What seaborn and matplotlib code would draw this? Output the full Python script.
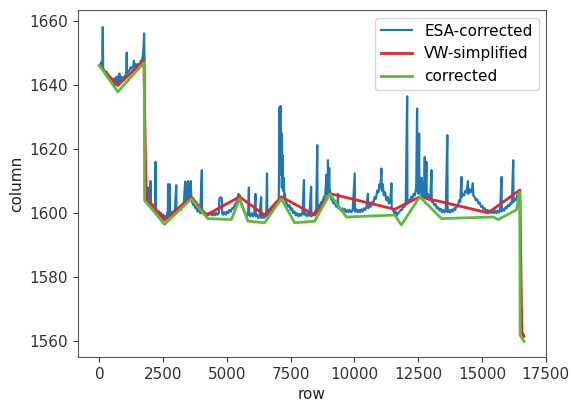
import matplotlib
matplotlib.use("Agg")
import matplotlib.pyplot as plt
import seaborn as sns
import pandas as pd

# ESA-corrected trace, (row, column) pairs, one list per stretch of rows
esa_head = [
    (0, 1646), (30, 1645.5), (60, 1647), (90, 1645), (110, 1646), (130, 1658), (145, 1645),
    (190, 1644.5), (240, 1643.5), (290, 1644), (340, 1642.5), (390, 1642), (440, 1641.5),
    (490, 1641), (540, 1640.5), (590, 1642), (630, 1640), (670, 1642.5), (710, 1640.5),
    (750, 1642.5), (785, 1643.5), (810, 1641), (860, 1642.5), (910, 1641.5), (960, 1642.5),
    (1010, 1642.5), (1050, 1644), (1070, 1650), (1085, 1643.5), (1130, 1644), (1180, 1644.5),
    (1230, 1645.5), (1280, 1645), (1330, 1646), (1350, 1647.5), (1370, 1645.5), (1420, 1646.5),
    (1470, 1645.5), (1520, 1646.5), (1570, 1646), (1620, 1647.5), (1660, 1647), (1700, 1649),
    (1730, 1652), (1750, 1656), (1765, 1648),
]
esa_a = [
    (1780, 1606), (1800, 1603.5), (1830, 1605), (1850, 1608), (1870, 1603), (1900, 1608),
    (1915, 1602.5), (1950, 1604), (1980, 1603), (2000, 1610), (2015, 1602.5), (2060, 1601.5),
    (2100, 1602.5), (2150, 1600.5), (2190, 1602), (2200, 1616), (2210, 1601), (2260, 1600.5),
    (2300, 1599.5), (2340, 1600.5), (2380, 1599), (2420, 1600), (2460, 1598.5), (2500, 1599.5),
    (2540, 1598), (2580, 1599), (2620, 1598.5), (2660, 1600), (2680, 1599.5), (2690, 1609),
    (2700, 1599.5), (2740, 1600), (2750, 1609), (2760, 1599.5), (2800, 1600.5), (2850, 1599.5),
    (2900, 1600.5), (2950, 1600), (3010, 1608.7), (3020, 1600.5), (3060, 1601), (3100, 1600.5),
    (3150, 1601.5), (3200, 1601), (3250, 1602.5), (3300, 1602), (3360, 1609.8), (3370, 1603),
    (3420, 1603.5), (3470, 1610), (3480, 1603.5), (3530, 1604.5), (3580, 1610), (3600, 1605),
    (3630, 1603.5),
]
esa_b = [
    (3680, 1602.5), (3720, 1603), (3760, 1601.5), (3800, 1602), (3850, 1600.5), (3900, 1601),
    (3950, 1600), (4015, 1613.4), (4025, 1600), (4070, 1600.5), (4120, 1599.5), (4170, 1600),
    (4220, 1599), (4270, 1600), (4320, 1599.5), (4370, 1600.3), (4420, 1599.3), (4470, 1600),
    (4520, 1599.3), (4570, 1600.2), (4620, 1599.5), (4680, 1600), (4700, 1604.5), (4750, 1605),
    (4800, 1604.5), (4810, 1600), (4850, 1599.5), (4900, 1600.3), (4950, 1599.5), (5000, 1600.5),
    (5050, 1600), (5100, 1601), (5150, 1600.5), (5200, 1601.5), (5250, 1601.5), (5300, 1602.5),
    (5350, 1603), (5400, 1604), (5450, 1606), (5480, 1604.5), (5500, 1605.5),
]
esa_c = [
    (5540, 1603.5), (5580, 1602.5), (5630, 1601.5), (5680, 1600.5), (5730, 1600), (5780, 1599),
    (5830, 1600), (5860, 1608), (5870, 1599.5), (5920, 1599), (5970, 1600), (6020, 1599),
    (6070, 1599.8), (6120, 1606), (6130, 1599), (6180, 1599.5), (6230, 1598.5), (6280, 1599.3),
    (6340, 1605), (6350, 1598.5), (6400, 1599.3), (6450, 1598.5), (6500, 1599.5), (6540, 1599),
    (6570, 1612.4), (6580, 1599.5), (6630, 1600.5), (6680, 1600), (6730, 1601), (6780, 1600.5),
    (6830, 1601.5), (6880, 1602), (6930, 1602.5), (6980, 1603), (7030, 1604), (7065, 1633),
    (7075, 1615), (7090, 1620), (7100, 1633.4), (7110, 1612), (7125, 1618), (7140, 1625),
    (7150, 1608), (7165, 1612), (7180, 1618), (7195, 1607), (7215, 1609), (7230, 1611),
    (7250, 1605), (7270, 1606),
]
esa_d = [
    (7300, 1603.5), (7350, 1603), (7400, 1602), (7450, 1602.5), (7500, 1601), (7550, 1601.5),
    (7600, 1600), (7650, 1600.5), (7700, 1599.3), (7750, 1600), (7800, 1599), (7850, 1599.8),
    (7900, 1599.2), (7960, 1600), (8020, 1610.3), (8030, 1599.5), (8080, 1600), (8130, 1599),
    (8180, 1599.8), (8230, 1599.2), (8300, 1608.2), (8310, 1599), (8360, 1600), (8410, 1599.5),
    (8460, 1600.5), (8500, 1601), (8540, 1621.2), (8550, 1601.5), (8600, 1602.5), (8650, 1602.5),
    (8700, 1603.5), (8750, 1603.5), (8800, 1605), (8850, 1605.5), (8880, 1609), (8900, 1612),
    (8915, 1606), (8930, 1609), (8945, 1606), (8960, 1616.5), (8975, 1607), (8990, 1610),
    (9010, 1614), (9025, 1606), (9040, 1607),
]
esa_e = [
    (9080, 1604.5), (9130, 1604), (9180, 1603), (9230, 1603.5), (9280, 1602), (9330, 1602.5),
    (9355, 1606), (9365, 1601.5), (9420, 1601.8), (9470, 1600.8), (9520, 1601.5), (9570, 1600.5),
    (9620, 1601.3), (9670, 1600.3), (9720, 1601), (9770, 1600.3), (9820, 1601), (9870, 1600.3),
    (9930, 1601), (10010, 1612.4), (10020, 1600.5), (10070, 1601.2), (10120, 1600.3),
    (10170, 1601), (10220, 1600.3), (10270, 1601.2), (10320, 1600.5), (10370, 1601.5),
    (10420, 1601), (10470, 1602), (10530, 1606), (10540, 1601.5), (10590, 1602.5), (10640, 1602),
    (10690, 1603.5), (10740, 1603), (10790, 1605), (10840, 1604.5), (10890, 1607),
    (10940, 1606.5), (10980, 1609), (11020, 1608), (11055, 1613.9), (11070, 1607), (11110, 1609),
    (11150, 1605.5), (11200, 1606.5), (11250, 1604), (11300, 1605), (11350, 1603),
    (11400, 1603.5), (11450, 1609.3), (11460, 1601.5), (11510, 1601), (11560, 1600),
    (11610, 1600.5), (11660, 1599.3), (11710, 1600), (11760, 1600.3), (11810, 1601),
    (11860, 1601), (11910, 1602), (11960, 1602), (12010, 1603), (12065, 1636.4), (12075, 1603),
    (12120, 1604), (12170, 1603.5), (12220, 1605), (12270, 1604.5), (12320, 1606),
    (12370, 1605.5), (12420, 1608), (12455, 1632.6), (12465, 1607), (12490, 1612), (12510, 1606),
    (12535, 1624.8), (12545, 1607), (12570, 1611), (12600, 1606), (12640, 1611), (12670, 1605),
    (12710, 1609), (12740, 1605), (12755, 1617.5), (12765, 1605), (12800, 1608), (12820, 1616),
    (12830, 1604.5), (12880, 1606), (12930, 1604), (12980, 1606), (13020, 1613.4),
    (13030, 1603.5),
]
esa_f = [
    (13080, 1603.5), (13130, 1602.5), (13180, 1602.8), (13230, 1601.5), (13280, 1601.8),
    (13330, 1600.8), (13380, 1601.3), (13430, 1600.3), (13480, 1601), (13530, 1600.2),
    (13580, 1601), (13640, 1624.3), (13650, 1600.3), (13700, 1601), (13750, 1600.2),
    (13800, 1601), (13850, 1600.5), (13900, 1601.5), (13950, 1601), (14000, 1602.5),
    (14050, 1602), (14100, 1604), (14150, 1603.5), (14195, 1611.3), (14205, 1605), (14250, 1606),
    (14300, 1605.5), (14350, 1607), (14400, 1606.5), (14450, 1610), (14460, 1606),
    (14510, 1607.5), (14560, 1606.5), (14610, 1607), (14640, 1609.3), (14660, 1605.5),
    (14710, 1605), (14760, 1604), (14810, 1604.3), (14860, 1603), (14910, 1603.3), (14960, 1602),
    (15010, 1602.3), (15060, 1601.2), (15110, 1601.5), (15160, 1600.5), (15210, 1601),
    (15260, 1600.2), (15310, 1600.8), (15360, 1600), (15410, 1600.7), (15460, 1600),
    (15510, 1600.8), (15560, 1600), (15610, 1600.8), (15660, 1600.2), (15710, 1600.8),
    (15765, 1611.3), (15775, 1600.5), (15820, 1601.2), (15870, 1600.8), (15920, 1601.8),
    (15970, 1601.5), (16020, 1602.5), (16070, 1602.2), (16120, 1603.2), (16170, 1603),
    (16225, 1616.5), (16235, 1603.5), (16280, 1604.5), (16330, 1604), (16380, 1605.5),
    (16430, 1605.3), (16470, 1606.5),
]
esa_tail = [(16490, 1604), (16520, 1572), (16550, 1570), (16570, 1563), (16640, 1561.5)]

# Visvalingam-Whyatt simplified line
vw_row = [0, 720, 1740, 1830, 2550, 3600, 4190, 5495, 6475, 7130, 8440, 9030, 11580, 12560,
          15240, 16485, 16560, 16640]
vw_col = [1646, 1639.8, 1647.5, 1605, 1597.8, 1605.1, 1599.4, 1605.1, 1599.4, 1605.1, 1599.4,
          1606.1, 1601.2, 1605.1, 1600.1, 1607.2, 1563, 1561.7]

# Corrected line
cor_row = [0, 720, 1755, 1770, 2550, 3600, 4250, 5170, 5495, 5820, 6475, 7130, 7650, 8440,
           9030, 9680, 11580, 11840, 12560, 13410, 15440, 15630, 16350, 16480, 16495, 16650]
cor_col = [1646, 1637.8, 1647, 1604, 1596.5, 1604.5, 1598.3, 1598, 1604.5, 1597.5, 1597,
           1604.5, 1597, 1597.5, 1606, 1598.8, 1599.4, 1596.3, 1605.1, 1598.3, 1598.8, 1598,
           1601, 1606.5, 1562, 1560]

esa_pts = esa_head + esa_a + esa_b + esa_c + esa_d + esa_e + esa_f + esa_tail
esa = pd.DataFrame(esa_pts, columns=["row", "column"])
vw = pd.DataFrame({"row": vw_row, "column": vw_col})
cor = pd.DataFrame({"row": cor_row, "column": cor_col})

fig = plt.figure(figsize=(5.72, 4.01), dpi=100)
ax = fig.add_axes([0.136, 0.110, 0.819, 0.865])

sns.lineplot(data=esa, x="row", y="column", ax=ax, color="#1f77b4", lw=1.6,
             estimator=None, sort=False, label="ESA-corrected")
sns.lineplot(data=vw, x="row", y="column", ax=ax, color="#e3262d", lw=2,
             estimator=None, sort=False, label="VW-simplified")
sns.lineplot(data=cor, x="row", y="column", ax=ax, color="#5dbb3c", lw=2,
             estimator=None, sort=False, label="corrected")

ax.set_xlim(-850, 17520)
ax.set_ylim(1555.2, 1663.3)
ax.set_xticks([0, 2500, 5000, 7500, 10000, 12500, 15000, 17500])
ax.set_yticks([1560, 1580, 1600, 1620, 1640, 1660])
ax.tick_params(labelsize=11, colors="#333333")
for s in ax.spines.values():
    s.set_color("#555555")
ax.set_xlabel("row", fontsize=11, color="#222222")
ax.set_ylabel("column", fontsize=11, color="#222222")
ax.legend(loc="upper right", fontsize=11)

fig.savefig("out.png", dpi=100)
